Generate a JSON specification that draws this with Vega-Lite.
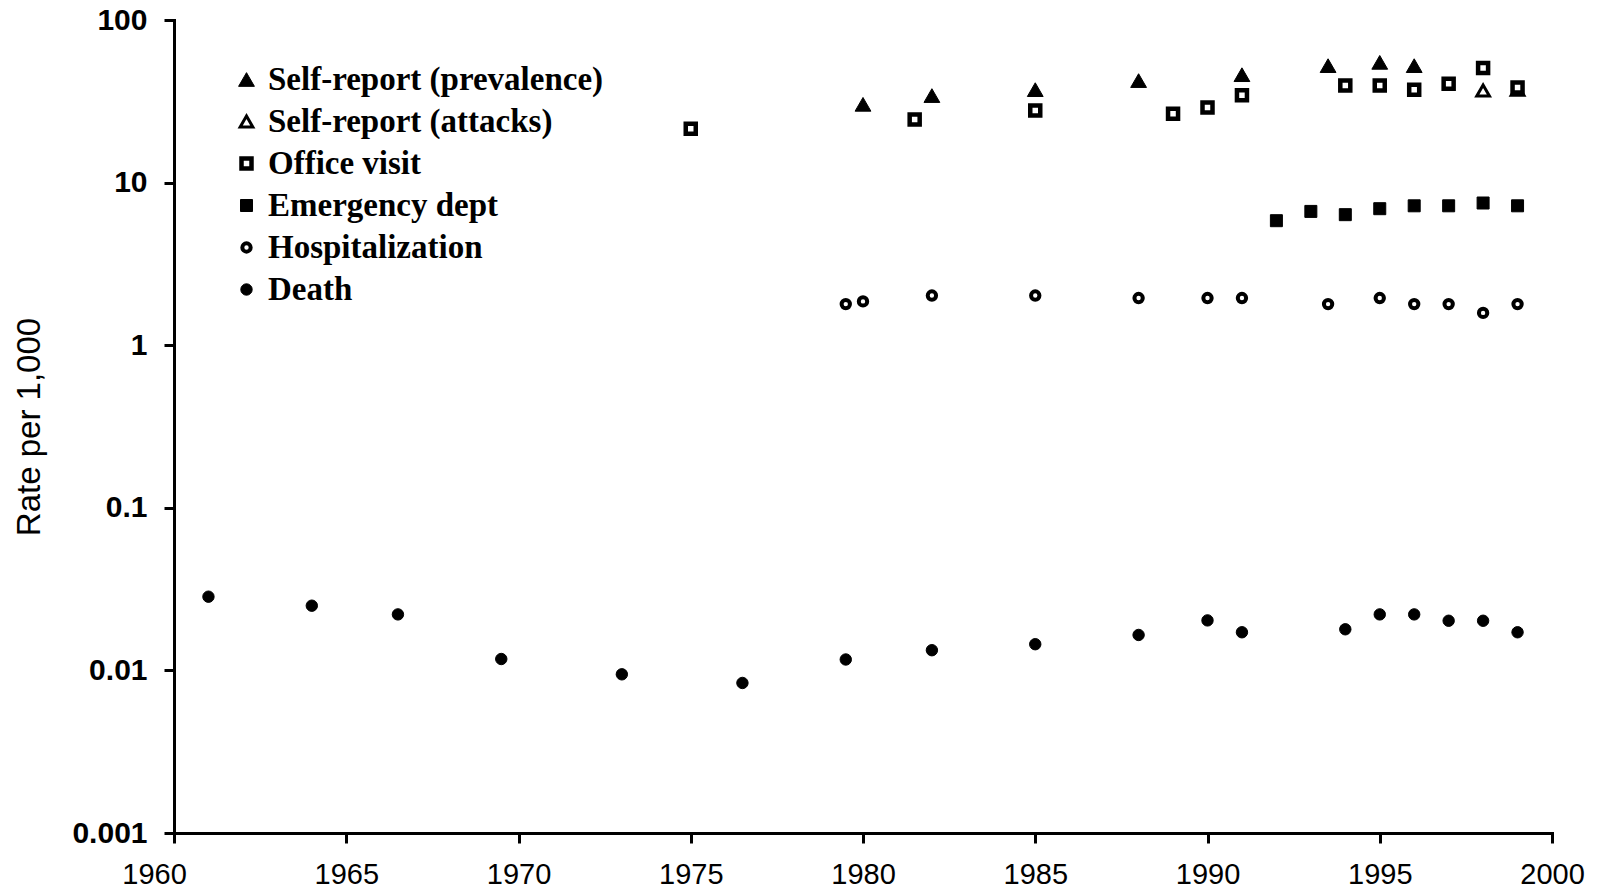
{
  "$schema": "https://vega.github.io/schema/vega-lite/v6.json",
  "width": 1378,
  "height": 813,
  "autosize": {"type": "none"},
  "padding": {"left": 174, "top": 20, "right": 49, "bottom": 57},
  "background": "white",
  "data": {
    "values": [
      {"year": 1980, "series": "Self-report (prevalence)", "value": 30.3},
      {"year": 1982, "series": "Self-report (prevalence)", "value": 34.3},
      {"year": 1985, "series": "Self-report (prevalence)", "value": 37.3},
      {"year": 1988, "series": "Self-report (prevalence)", "value": 42.4},
      {"year": 1991, "series": "Self-report (prevalence)", "value": 46.1},
      {"year": 1993.5, "series": "Self-report (prevalence)", "value": 52.4},
      {"year": 1995, "series": "Self-report (prevalence)", "value": 54.9},
      {"year": 1996, "series": "Self-report (prevalence)", "value": 52.4},
      {"year": 1998, "series": "Self-report (attacks)", "value": 36.9},
      {"year": 1999, "series": "Self-report (attacks)", "value": 37.2},
      {"year": 1975, "series": "Office visit", "value": 21.4},
      {"year": 1981.5, "series": "Office visit", "value": 24.4},
      {"year": 1985, "series": "Office visit", "value": 27.8},
      {"year": 1989, "series": "Office visit", "value": 26.5},
      {"year": 1990, "series": "Office visit", "value": 29.0},
      {"year": 1991, "series": "Office visit", "value": 34.5},
      {"year": 1994, "series": "Office visit", "value": 39.5},
      {"year": 1995, "series": "Office visit", "value": 39.5},
      {"year": 1996, "series": "Office visit", "value": 37.3},
      {"year": 1997, "series": "Office visit", "value": 40.6},
      {"year": 1998, "series": "Office visit", "value": 50.7},
      {"year": 1999, "series": "Office visit", "value": 38.5},
      {"year": 1992, "series": "Emergency dept", "value": 5.83},
      {"year": 1993, "series": "Emergency dept", "value": 6.65},
      {"year": 1994, "series": "Emergency dept", "value": 6.35},
      {"year": 1995, "series": "Emergency dept", "value": 6.91},
      {"year": 1996, "series": "Emergency dept", "value": 7.2},
      {"year": 1997, "series": "Emergency dept", "value": 7.2},
      {"year": 1998, "series": "Emergency dept", "value": 7.49},
      {"year": 1999, "series": "Emergency dept", "value": 7.2},
      {"year": 1979.5, "series": "Hospitalization", "value": 1.79},
      {"year": 1980, "series": "Hospitalization", "value": 1.86},
      {"year": 1982, "series": "Hospitalization", "value": 2.02},
      {"year": 1985, "series": "Hospitalization", "value": 2.02},
      {"year": 1988, "series": "Hospitalization", "value": 1.95},
      {"year": 1990, "series": "Hospitalization", "value": 1.95},
      {"year": 1991, "series": "Hospitalization", "value": 1.95},
      {"year": 1993.5, "series": "Hospitalization", "value": 1.79},
      {"year": 1995, "series": "Hospitalization", "value": 1.95},
      {"year": 1996, "series": "Hospitalization", "value": 1.79},
      {"year": 1997, "series": "Hospitalization", "value": 1.79},
      {"year": 1998, "series": "Hospitalization", "value": 1.58},
      {"year": 1999, "series": "Hospitalization", "value": 1.79},
      {"year": 1961, "series": "Death", "value": 0.0284},
      {"year": 1964, "series": "Death", "value": 0.025},
      {"year": 1966.5, "series": "Death", "value": 0.0221},
      {"year": 1969.5, "series": "Death", "value": 0.01175},
      {"year": 1973, "series": "Death", "value": 0.00946},
      {"year": 1976.5, "series": "Death", "value": 0.00837},
      {"year": 1979.5, "series": "Death", "value": 0.01167},
      {"year": 1982, "series": "Death", "value": 0.01331},
      {"year": 1985, "series": "Death", "value": 0.01449},
      {"year": 1988, "series": "Death", "value": 0.01652},
      {"year": 1990, "series": "Death", "value": 0.0203},
      {"year": 1991, "series": "Death", "value": 0.01716},
      {"year": 1994, "series": "Death", "value": 0.0179},
      {"year": 1995, "series": "Death", "value": 0.0221},
      {"year": 1996, "series": "Death", "value": 0.0221},
      {"year": 1997, "series": "Death", "value": 0.0202},
      {"year": 1998, "series": "Death", "value": 0.0202},
      {"year": 1999, "series": "Death", "value": 0.01716}
    ]
  },
  "mark": {"type": "point", "filled": false, "stroke": "black", "opacity": 1, "strokeOpacity": 1, "fillOpacity": 1},
  "encoding": {
    "x": {
      "field": "year", "type": "quantitative",
      "scale": {"domain": [1960, 2000], "nice": false, "zero": false},
      "axis": {
        "values": [1960, 1965, 1970, 1975, 1980, 1985, 1990, 1995, 2000],
        "format": "d", "title": null, "grid": false,
        "domainColor": "black", "domainWidth": 3,
        "tickColor": "black", "tickWidth": 3, "tickSize": 10,
        "labelFont": "Liberation Sans", "labelFontSize": 29, "labelColor": "black",
        "labelPadding": 17, "labelFlush": false, "labelOverlap": false,
        "labelOffset": {"condition": {"test": "datum.value == 1960", "value": -20}, "value": 0}
      }
    },
    "y": {
      "field": "value", "type": "quantitative",
      "scale": {"type": "log", "domain": [0.001, 100], "nice": false},
      "axis": {
        "values": [0.001, 0.01, 0.1, 1, 10, 100],
        "format": "~g", "title": "Rate per 1,000", "grid": false,
        "domainColor": "black", "domainWidth": 3,
        "tickColor": "black", "tickWidth": 3, "tickSize": 10,
        "labelFont": "Liberation Sans", "labelFontWeight": "bold", "labelFontSize": 30, "labelColor": "black",
        "labelPadding": 17, "labelFlush": false, "labelOverlap": false,
        "titleFont": "Liberation Sans", "titleFontWeight": "normal", "titleFontSize": 33, "titleColor": "black",
        "titlePadding": 25
      }
    },
    "shape": {
      "field": "series", "type": "nominal",
      "scale": {
        "domain": ["Self-report (prevalence)", "Self-report (attacks)", "Office visit", "Emergency dept", "Hospitalization", "Death"],
        "range": ["triangle-up", "triangle-up", "square", "square", "circle", "circle"]
      },
      "legend": {
        "title": null, "orient": "none", "legendX": 56, "legendY": 43,
        "labelFont": "Liberation Serif", "labelFontWeight": "bold", "labelFontSize": 33, "labelColor": "black",
        "labelOffset": 5, "rowPadding": 8, "padding": 0, "labelLimit": 600
      }
    },
    "fill": {
      "field": "series", "type": "nominal",
      "scale": {
        "domain": ["Self-report (prevalence)", "Self-report (attacks)", "Office visit", "Emergency dept", "Hospitalization", "Death"],
        "range": ["black", "white", "white", "black", "white", "black"]
      },
      "legend": {
        "title": null, "orient": "none", "legendX": 56, "legendY": 43,
        "labelFont": "Liberation Serif", "labelFontWeight": "bold", "labelFontSize": 33, "labelColor": "black",
        "labelOffset": 5, "rowPadding": 8, "padding": 0, "labelLimit": 600
      }
    },
    "size": {
      "field": "series", "type": "nominal",
      "scale": {
        "type": "ordinal",
        "domain": ["Self-report (prevalence)", "Self-report (attacks)", "Office visit", "Emergency dept", "Hospitalization", "Death"],
        "range": [250, 160, 100, 144, 70, 130]
      },
      "legend": {
        "title": null, "orient": "none", "legendX": 56, "legendY": 43,
        "labelFont": "Liberation Serif", "labelFontWeight": "bold", "labelFontSize": 33, "labelColor": "black",
        "labelOffset": 5, "rowPadding": 8, "padding": 0, "labelLimit": 600
      }
    },
    "strokeWidth": {
      "field": "series", "type": "nominal",
      "scale": {
        "type": "ordinal",
        "domain": ["Self-report (prevalence)", "Self-report (attacks)", "Office visit", "Emergency dept", "Hospitalization", "Death"],
        "range": [1, 3, 4.5, 1, 4, 1]
      },
      "legend": {
        "title": null, "orient": "none", "legendX": 56, "legendY": 43,
        "labelFont": "Liberation Serif", "labelFontWeight": "bold", "labelFontSize": 33, "labelColor": "black",
        "labelOffset": 5, "rowPadding": 8, "padding": 0, "labelLimit": 600
      }
    }
  },
  "config": {
    "view": {"stroke": null},
    "axis": {"domainCap": "square"}
  }
}
